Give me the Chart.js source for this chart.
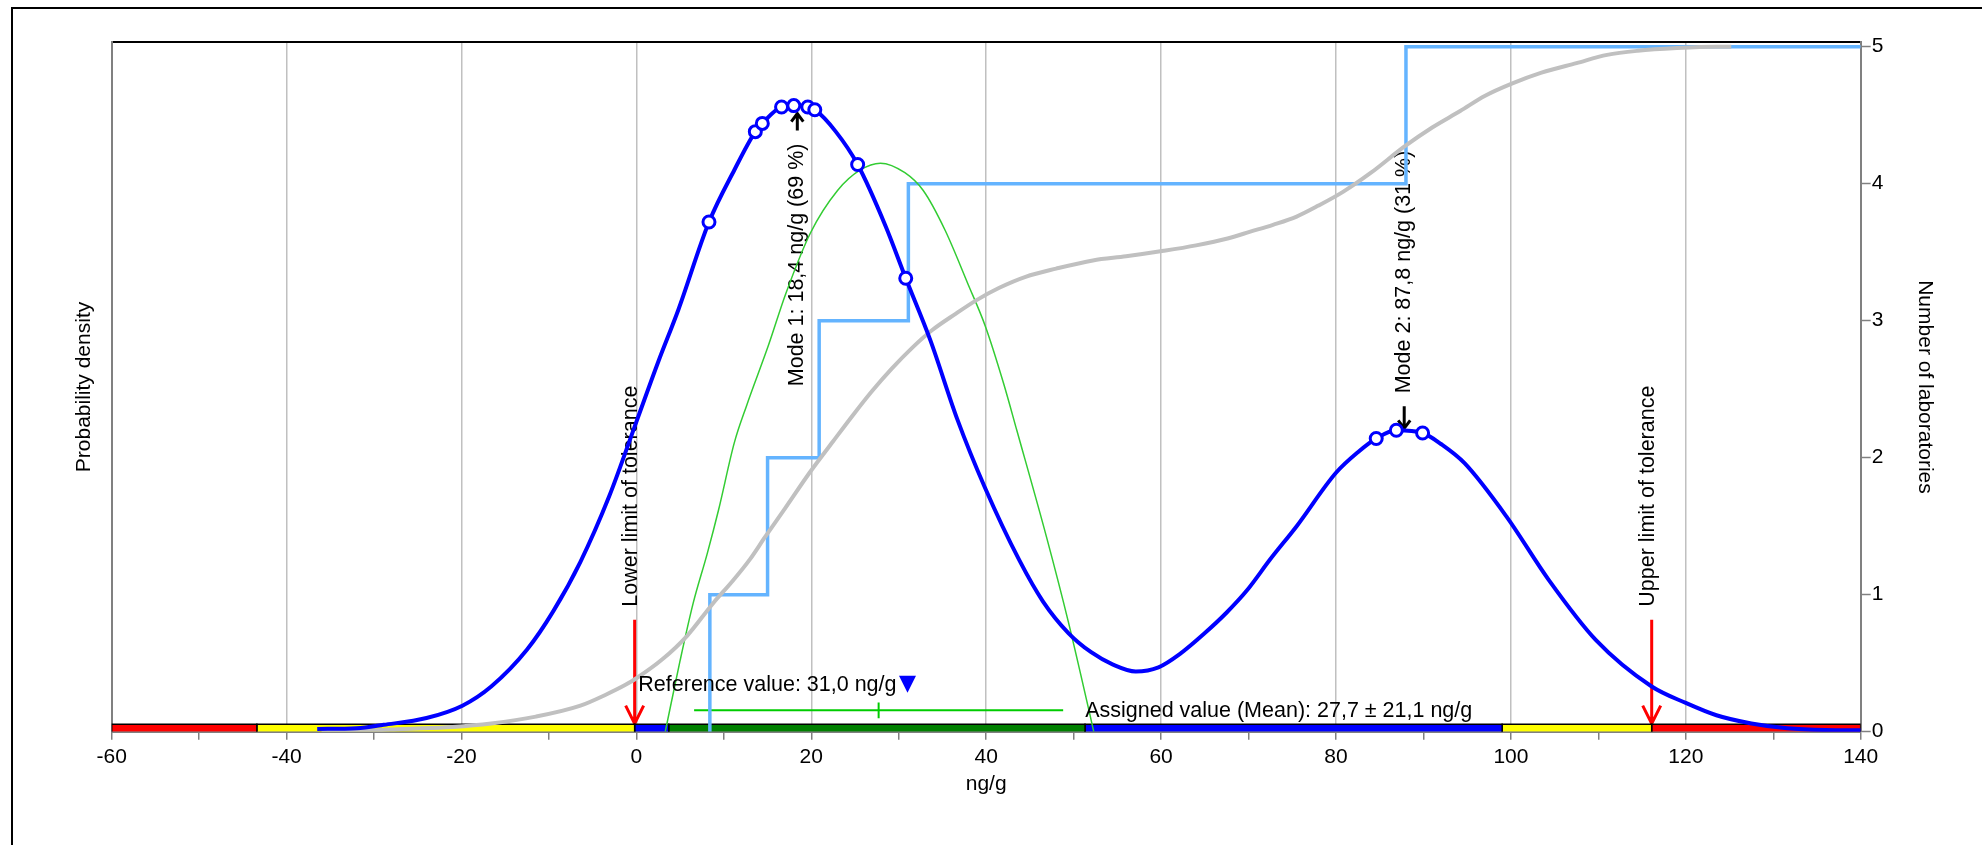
<!DOCTYPE html>
<html>
<head>
<meta charset="utf-8">
<title>Kernel density of laboratory results</title>
<script src="https://cdn.jsdelivr.net/npm/chart.js@4.4.1/dist/chart.umd.min.js"></script>
<style>
  html, body { margin: 0; padding: 0; background: #fff; overflow: hidden; }
  #wrap { position: relative; width: 1982px; height: 845px; }
  #frame { position: absolute; left: 11px; top: 7px; width: 2100px; height: 900px;
           border-left: 2px solid #000; border-top: 2px solid #000; }
  canvas { position: absolute; left: 0; top: 0; }
</style>
</head>
<body>
<div id="wrap">
  <div id="frame"></div>
  <canvas id="chart" width="1982" height="845"></canvas>
</div>
<script>
// kernel density estimate (left axis, arbitrary units)
const densityX = [-36.5, -32, -28.9, -24, -19.9, -16.6, -12.5, -9.5, -6.4, -3.1, 0.1, 2.5, 4.8, 8.3, 11.2, 13.6, 14.4,
  16.6, 18.0, 19.6, 20.4, 22.8, 25.3, 28.5, 30.8, 33.6, 36.7, 39.8, 43.8, 46.5, 49.4, 52.0, 54.5, 57.1, 59.7, 62.2, 65.0,
  67.5, 69.8, 72.5, 75.5, 80.0, 82.5, 84.6, 86.9, 89.9, 92.0, 94.7, 99.5, 104.3, 109.7, 116.1, 120, 123.5, 127.5, 131.6,
  136, 140];
const densityY = [0.02, 0.025, 0.05, 0.10, 0.19, 0.33, 0.60, 0.88, 1.24, 1.72, 2.28, 2.70, 3.08, 3.72, 4.10, 4.38, 4.44,
  4.56, 4.57, 4.56, 4.54, 4.38, 4.14, 3.69, 3.31, 2.86, 2.28, 1.79, 1.25, 0.95, 0.72, 0.58, 0.49, 0.44, 0.47, 0.57, 0.72,
  0.87, 1.03, 1.26, 1.50, 1.89, 2.04, 2.14, 2.20, 2.18, 2.10, 1.96, 1.57, 1.11, 0.67, 0.33, 0.21, 0.12, 0.06, 0.025,
  0.012, 0.01];

// single results (circles on the density curve)
const resultX = [8.3, 13.6, 14.4, 16.6, 18.0, 19.6, 20.4, 25.3, 30.8, 84.6, 86.9, 89.9];
const resultY = [3.72, 4.38, 4.44, 4.56, 4.57, 4.56, 4.54, 4.14, 3.31, 2.14, 2.20, 2.18];

// cumulative distribution, scaled to number of laboratories (right axis)
const cumX = [-36, -30, -26.8, -21, -16.6, -11.5, -6.4, -3.5, -1.3, 0.0, 3.0, 5.8, 8.8, 11.0, 13.0, 14.7, 17.0, 19.8,
  22.5, 25.0, 27.0, 29.2, 31.5, 33.8, 36.5, 38.9, 41.5, 44.5, 48.0, 52.2, 56, 60.3, 64, 67.6, 70.2, 72.8, 75.5, 78, 80.8,
  84, 87.8, 91, 94.2, 97, 100.1, 103.5, 107.5, 111, 114.5, 119, 123.5, 125.2];
const cumY = [0.0, 0.01, 0.02, 0.035, 0.06, 0.11, 0.19, 0.27, 0.34, 0.39, 0.53, 0.70, 0.94, 1.10, 1.26, 1.42, 1.63, 1.89,
  2.12, 2.33, 2.49, 2.65, 2.80, 2.93, 3.05, 3.15, 3.24, 3.32, 3.38, 3.44, 3.47, 3.51, 3.55, 3.60, 3.65, 3.70, 3.76, 3.84,
  3.94, 4.08, 4.27, 4.41, 4.53, 4.64, 4.73, 4.81, 4.88, 4.94, 4.97, 4.99, 5.00, 5.00];

// normal distribution of the assigned value (left axis)
const normalX = [3.3, 5.0, 6.5, 8.1, 9.4, 11.2, 12.6, 15.1, 17.1, 19.9, 23.0, 25.6, 27.9, 30.7, 32.8, 35.3, 37.9, 39.9,
  42.0, 43.5, 46.9, 49.4, 52.0, 52.3];
const normalY = [0.0, 0.52, 0.94, 1.30, 1.62, 2.11, 2.38, 2.82, 3.20, 3.64, 3.95, 4.10, 4.15, 4.08, 3.95, 3.66, 3.27, 2.96,
  2.54, 2.20, 1.42, 0.80, 0.085, 0.0];

// laboratory means (sorted) for the cumulative step line
const labMeans = [8.4, 15.0, 20.9, 31.1, 88.0];

// assessment zones along the x axis
const zoneEdges = [-60, -43.4, -0.2, 3.7, 51.3, 99.0, 116.1, 140];
const zoneColors = ['#FF0000', '#FFFF00', '#0000FF', '#008000', '#0000FF', '#FFFF00', '#FF0000'];

const modeValues = [18.4, 87.8];
const modeShares = [69, 31];
const modePeaks = [4.57, 2.20];
const toleranceLimits = [-0.2, 116.1];
const referenceValue = 31.0;
const assignedValue = 27.7;
const assignedUncertainty = 21.1;

const X_MIN = -60, X_MAX = 140, Y_MAX = 5.032;
const ZONE_H = 0.054;       // height of the zone strip (right axis units)
const ASSIGNED_LEVEL = 0.156;
const ASSIGNED_TICK = 0.058;
const FONT = '"Liberation Sans", Arial, sans-serif';
const NOTE_FONT = '21.5px ' + FONT;

const fmt = (v) => v.toFixed(1).replace('.', ',');
const pts = (xs, ys) => xs.map((x, i) => ({x: x, y: ys[i]}));

function vText(ctx, text, x, y, align) {
  ctx.save();
  ctx.translate(x, y);
  ctx.rotate(-Math.PI / 2);
  ctx.textAlign = align;
  ctx.textBaseline = 'middle';
  ctx.fillText(text, 0, 0);
  ctx.restore();
}

function arrow(ctx, x, y0, y1, color, hw, hl, lw) {
  const dir = Math.sign(y1 - y0);
  ctx.save();
  ctx.strokeStyle = color;
  ctx.lineWidth = lw;
  ctx.beginPath();
  ctx.moveTo(x, y0);
  ctx.lineTo(x, y1);
  ctx.moveTo(x - hw, y1 - dir * hl);
  ctx.lineTo(x, y1);
  ctx.lineTo(x + hw, y1 - dir * hl);
  ctx.stroke();
  ctx.restore();
}

const annotations = {
  id: 'annotations',
  beforeDatasetsDraw(chart) {
    const {ctx, chartArea, scales} = chart;
    const xs = scales.x, ys = scales.y;
    ctx.save();
    ctx.font = NOTE_FONT;
    ctx.fillStyle = '#000';

    // tolerance limits
    toleranceLimits.forEach((v, i) => {
      const px = xs.getPixelForValue(v);
      const tail = chartArea.bottom - 112;
      arrow(ctx, px, tail, chartArea.bottom - 8, '#FF0000', 9, 18, 3);
      vText(ctx, (i === 0 ? 'Lower' : 'Upper') + ' limit of tolerance', px - 4, tail - 13, 'left');
    });

    // modes
    modeValues.forEach((v, i) => {
      const px = xs.getPixelForValue(v);
      const peak = ys.getPixelForValue(modePeaks[i]);
      const label = 'Mode ' + (i + 1) + ': ' + fmt(v) + ' ng/g (' + modeShares[i] + ' %)';
      if (i === 0) {
        const tip = peak + 8, tail = tip + 17;
        arrow(ctx, px, tail, tip, '#000', 6, 8, 3);
        vText(ctx, label, px, tail + 13, 'right');
      } else {
        const tip = peak - 2, tail = tip - 22;
        arrow(ctx, px, tail, tip, '#000', 6, 8, 3);
        vText(ctx, label, px, tail - 13, 'left');
      }
    });
    ctx.restore();
  },
  afterDatasetsDraw(chart) {
    const {ctx, chartArea, scales} = chart;
    const xs = scales.x;
    ctx.save();
    ctx.font = NOTE_FONT;
    ctx.fillStyle = '#000';
    ctx.textBaseline = 'alphabetic';

    // reference value with marker
    const rx = xs.getPixelForValue(referenceValue);
    const top = chartArea.bottom - 56, tip = chartArea.bottom - 39;
    ctx.textAlign = 'right';
    ctx.fillText('Reference value: ' + fmt(referenceValue) + ' ng/g', rx - 11, chartArea.bottom - 41);
    ctx.fillStyle = '#0000FF';
    ctx.beginPath();
    ctx.moveTo(rx - 8.5, top);
    ctx.lineTo(rx + 8.5, top);
    ctx.lineTo(rx, tip);
    ctx.closePath();
    ctx.fill();

    // assigned value
    ctx.fillStyle = '#000';
    ctx.textAlign = 'left';
    const ax = xs.getPixelForValue(assignedValue + assignedUncertainty);
    ctx.fillText('Assigned value (Mean): ' + fmt(assignedValue) + ' \u00b1 ' + fmt(assignedUncertainty) + ' ng/g',
      ax + 22, chartArea.bottom - 15);
    ctx.restore();
  }
};

Chart.defaults.font.family = FONT;
Chart.defaults.font.size = 21;
Chart.defaults.color = '#000';

const lineBase = {showLine: true, pointRadius: 0, pointHoverRadius: 0, fill: false};

const datasets = [
  {
    label: 'Results', data: pts(resultX, resultY), yAxisID: 'y',
    pointStyle: 'circle', pointRadius: 6, pointBorderWidth: 3,
    pointBorderColor: '#0000FF', pointBackgroundColor: '#FFFFFF', showLine: false
  },
  Object.assign({}, lineBase, {
    label: 'Kernel density', data: pts(densityX, densityY), yAxisID: 'y',
    borderColor: '#0000FF', borderWidth: 4, cubicInterpolationMode: 'monotone'
  }),
  Object.assign({}, lineBase, {
    label: 'Cumulative', data: pts(cumX, cumY), yAxisID: 'y2',
    borderColor: '#C0C0C0', borderWidth: 4, cubicInterpolationMode: 'monotone'
  }),
  Object.assign({}, lineBase, {
    label: 'Normal', data: pts(normalX, normalY), yAxisID: 'y',
    borderColor: '#33CC33', borderWidth: 1.5, cubicInterpolationMode: 'monotone'
  }),
  Object.assign({}, lineBase, {
    label: 'Laboratories',
    data: labMeans.flatMap((v, i) => [{x: v, y: i}, {x: v, y: i + 1}]).concat([{x: X_MAX, y: labMeans.length}]),
    yAxisID: 'y2', borderColor: '#64B4FF', borderWidth: 3.5
  }),
  Object.assign({}, lineBase, {
    label: 'Assigned interval',
    data: [{x: assignedValue - assignedUncertainty, y: ASSIGNED_LEVEL}, {x: assignedValue + assignedUncertainty, y: ASSIGNED_LEVEL}],
    yAxisID: 'y2', borderColor: '#00CC00', borderWidth: 2
  }),
  Object.assign({}, lineBase, {
    label: 'Assigned value',
    data: [{x: assignedValue, y: ASSIGNED_LEVEL - ASSIGNED_TICK}, {x: assignedValue, y: ASSIGNED_LEVEL + ASSIGNED_TICK}],
    yAxisID: 'y2', borderColor: '#00CC00', borderWidth: 2
  })
];

zoneColors.forEach((c, i) => {
  const a = zoneEdges[i], b = zoneEdges[i + 1];
  datasets.push(Object.assign({}, lineBase, {
    label: 'Zone ' + i,
    data: [{x: a, y: 0}, {x: a, y: ZONE_H}, {x: b, y: ZONE_H}, {x: b, y: 0}],
    yAxisID: 'y2', borderColor: '#000', borderWidth: 1.5, backgroundColor: c, fill: 'origin'
  }));
});

new Chart(document.getElementById('chart'), {
  type: 'scatter',
  data: {datasets: datasets},
  plugins: [annotations],
  options: {
    responsive: false,
    animation: false,
    events: [],
    layout: {padding: {top: 42.3, left: 0, right: 0, bottom: 0}},
    plugins: {legend: {display: false}, tooltip: {enabled: false}},
    scales: {
      x: {
        type: 'linear', position: 'bottom', min: X_MIN, max: X_MAX,
        ticks: {
          stepSize: 10, autoSkip: false, maxRotation: 0, padding: 5, includeBounds: false,
          callback: (v) => (v % 20 === 0 ? v : '')
        },
        grid: {
          color: (c) => (c.tick && c.tick.value % 20 === 0 ? '#C0C0C0' : 'rgba(0,0,0,0)'),
          lineWidth: 1.5, tickColor: '#808080', tickLength: 8, tickWidth: 1.5
        },
        border: {color: '#808080', width: 2},
        title: {display: true, text: 'ng/g', padding: {top: 0, bottom: 48}},
        afterFit: (s) => { s.height = 113.3; }
      },
      x2: {
        type: 'linear', position: 'top', min: X_MIN, max: X_MAX,
        ticks: {display: false},
        grid: {drawOnChartArea: false, drawTicks: false},
        border: {color: '#000', width: 2},
        afterFit: (s) => { s.height = 0; }
      },
      y: {
        type: 'linear', position: 'left', min: 0, max: Y_MAX,
        ticks: {display: false},
        grid: {drawOnChartArea: false, drawTicks: false},
        border: {color: '#808080', width: 2},
        title: {display: true, text: 'Probability density', padding: {top: 71.4, bottom: 0}},
        afterFit: (s) => { s.width = 111.7; }
      },
      y2: {
        type: 'linear', position: 'right', min: 0, max: Y_MAX,
        ticks: {stepSize: 1, padding: 1, includeBounds: false},
        grid: {drawOnChartArea: false, tickColor: '#808080', tickLength: 10, tickWidth: 1.5},
        border: {color: '#808080', width: 2},
        title: {display: true, text: 'Number of laboratories', padding: {top: 44.4, bottom: 0}},
        afterFit: (s) => { s.width = 121.3; }
      }
    }
  }
});
</script>
</body>
</html>
